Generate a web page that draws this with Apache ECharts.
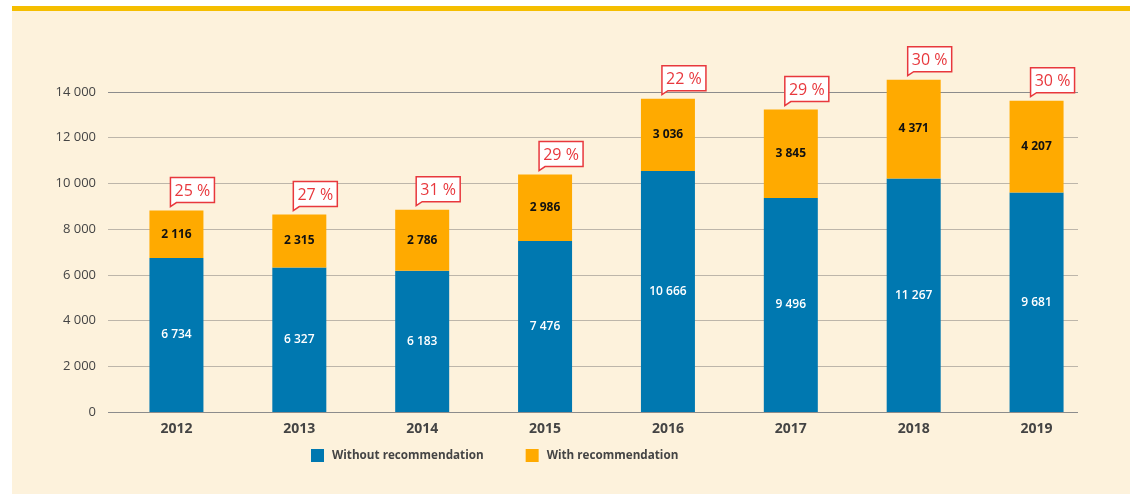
<!DOCTYPE html>
<html>
<head>
<meta charset="utf-8">
<script src="https://cdn.jsdelivr.net/npm/echarts@6/dist/echarts.min.js"></script>
<style>
html,body{margin:0;padding:0;background:#ffffff;}
#panel{position:absolute;left:12px;top:6px;width:1118px;height:488px;background:#FDF2DC;border-top:5px solid #F5BE00;box-sizing:border-box;}
#chart{position:absolute;left:0;top:0;width:1130px;height:494px;}
</style>
</head>
<body>
<div id="panel"></div>
<div id="chart"></div>
<script>
// Data
const years = ['2012','2013','2014','2015','2016','2017','2018','2019'];
// bar heights as drawn in the picture
const withoutRec = [6734, 6327, 6183, 7476, 10540, 9360, 10220, 9600];
const withRec = [2080, 2310, 2670, 2910, 3170, 3870, 4320, 4020];
// printed labels
const withoutRecLabels = ['6 734','6 327','6 183','7 476','10 666','9 496','11 267','9 681'];
const withRecLabels = ['2 116','2 315','2 786','2 986','3 036','3 845','4 371','4 207'];
const shareLabels = ['25 %','27 %','31 %','29 %','22 %','29 %','30 %','30 %'];
const yTicks = [0, 2000, 4000, 6000, 8000, 10000, 12000, 14000];

const FONT = '"Open Sans", "Noto Sans", sans-serif';
const BLUE = '#0078B0', ORANGE = '#FFAA00', RED = '#E8383D';

const totals = withoutRec.map((v, i) => v + withRec[i]);
const fmt = v => String(v).replace(/\B(?=(\d{3})+(?!\d))/g, ' ');

const chart = echarts.init(document.getElementById('chart'));
const gridLineColors = yTicks.map((t, i) => (i === 0 || i === yTicks.length - 1) ? '#8c8c8c' : '#bdb6aa');

chart.setOption({
  backgroundColor: 'transparent',
  animation: false,
  textStyle: { fontFamily: FONT },
  grid: [
    { left: 108, right: 52, top: 92, bottom: 82 },
    { left: 115, right: 32, top: 92, bottom: 82 }
  ],
  xAxis: [
    { type: 'category', gridIndex: 0, data: years, show: false },
    { type: 'category', gridIndex: 1, data: years,
      axisLine: { show: false }, axisTick: { show: false },
      axisLabel: { color: '#444', fontSize: 14, fontWeight: 'bold', fontFamily: FONT, margin: 10 } }
  ],
  yAxis: [
    { type: 'value', gridIndex: 0, min: yTicks[0], max: yTicks[yTicks.length - 1], interval: 2000,
      axisLine: { show: false }, axisTick: { show: false },
      axisLabel: { color: '#444', fontSize: 13, fontFamily: FONT, margin: 12, formatter: fmt },
      splitLine: { lineStyle: { color: gridLineColors, width: 1.2 } } },
    { type: 'value', gridIndex: 1, min: yTicks[0], max: yTicks[yTicks.length - 1], interval: 2000, show: false,
      splitLine: { show: false } }
  ],
  legend: {
    left: 306, top: 444, itemWidth: 13, itemHeight: 13, itemGap: 42,
    icon: 'rect',
    textStyle: { color: '#444', fontSize: 11.7, fontWeight: 'bold', fontFamily: FONT, padding: [0, 0, 0, 3] },
    data: ['Without recommendation', 'With recommendation']
  },
  series: [
    { name: 'Without recommendation', type: 'bar', stack: 's', xAxisIndex: 1, yAxisIndex: 1,
      barWidth: 54, clip: false, data: withoutRec, itemStyle: { color: BLUE },
      label: { show: true, position: 'inside', color: '#fff', fontSize: 12, fontWeight: 600, fontFamily: FONT,
        formatter: p => withoutRecLabels[p.dataIndex] } },
    { name: 'With recommendation', type: 'bar', stack: 's', xAxisIndex: 1, yAxisIndex: 1,
      barWidth: 54, clip: false, data: withRec, itemStyle: { color: ORANGE },
      label: { show: true, position: 'inside', color: '#111', fontSize: 12, fontWeight: 'bold', fontFamily: FONT,
        formatter: p => withRecLabels[p.dataIndex] } },
    { name: 'share', type: 'custom', xAxisIndex: 1, yAxisIndex: 1, silent: true,
      data: totals.map((t, i) => [i, t]),
      renderItem: function (params, api) {
        const pt = api.coord([api.value(0), api.value(1)]);
        const x0 = pt[0] - 6, w = 44, h = 25;
        const yb = pt[1] - 8, yt = yb - h;
        const txt = shareLabels[params.dataIndex];
        return {
          type: 'group',
          children: [
            { type: 'polygon',
              shape: { points: [[x0, yt], [x0 + w, yt], [x0 + w, yb], [x0 + 6, yb], [x0, yb + 4]] },
              style: { fill: '#fff', stroke: RED, lineWidth: 1.5 } },
            { type: 'text',
              style: { x: x0 + w / 2, y: yt + h / 2 + 1, text: txt, fill: RED, fontSize: 16, fontFamily: FONT,
                align: 'center', verticalAlign: 'middle' } }
          ]
        };
      }
    }
  ]
});
</script>
</body>
</html>
